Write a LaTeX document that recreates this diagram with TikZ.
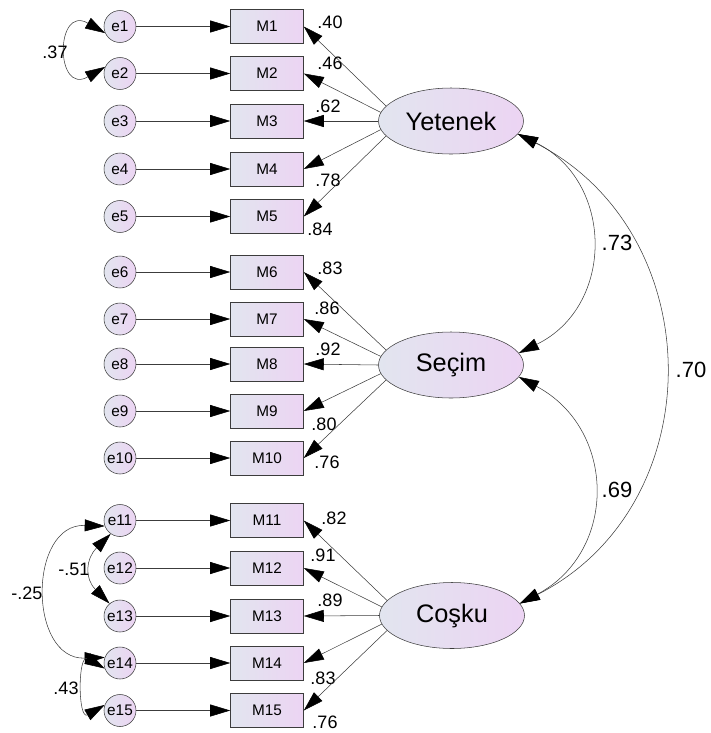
\documentclass[tikz,border=0pt]{standalone}
\usepackage{fontspec}
\setmainfont{Liberation Sans}
\usetikzlibrary{positioning}
\usetikzlibrary{shapes.geometric, arrows.meta}

\definecolor{fillL}{RGB}{226,229,239}
\definecolor{fillR}{RGB}{236,212,243}
\definecolor{edge}{RGB}{60,60,60}

\begin{document}
\begin{tikzpicture}[x=0.75pt, y=0.75pt,
  lat/.style={ellipse, draw=edge, left color=fillL, right color=fillR, minimum width=108.75pt, minimum height=49.5pt, inner sep=0pt, font=\fontsize{19}{19}\selectfont},
  obs/.style={rectangle, draw=edge, left color=fillL, right color=fillR, minimum width=54.75pt, minimum height=25.5pt, inner sep=0pt, font=\fontsize{11.5}{12}\selectfont},
  err/.style={circle, draw=edge, left color=fillL, right color=fillR, minimum size=24pt, inner sep=0pt, font=\fontsize{11.5}{12}\selectfont},
  reg/.style={draw=edge, -{Triangle[length=15pt, width=9pt, color=black]}},
  cov/.style={draw=edge, {Triangle[length=15pt, width=9pt, color=black]}-{Triangle[length=15pt, width=9pt, color=black]}},
  lbl/.style={inner sep=0pt, font=\fontsize{13.5}{14}\selectfont},
  big/.style={inner sep=0pt, font=\fontsize{16.5}{17}\selectfont}]

\useasboundingbox (0,0) rectangle (711,-733);

% error terms and items
\foreach \i/\y in {1/26.5, 2/73.5, 3/121, 4/169, 5/216.5, 6/272, 7/319, 8/364, 9/411, 10/458, 11/520.5, 12/568, 13/616, 14/663, 15/710.5}{
  \node[err] (e\i) at (120,-\y) {e\i};
  \node[obs] (M\i) at (267,-\y) {M\i};
  \draw[reg] (e\i) -- (M\i);
}

% factors
\node[lat] (yetenek) at (451,-121) {Yetenek};
\node[lat] (secim) at (451,-365) {Seçim};
\node[lat] (cosku) at (452,-615.5) {Coşku};

% loadings
\foreach \f/\i/\a/\v/\lx/\ly in {yetenek/1/167/.40/330/22, yetenek/2/173/.46/330/63, yetenek/3/180/.62/328/106, yetenek/4/187/.78/328/180, yetenek/5/193/.84/320/229,
  secim/6/167/.83/330/268, secim/7/173/.86/327/308, secim/8/180/.92/328/349, secim/9/187/.80/324/424, secim/10/193/.76/327/462,
  cosku/11/167/.82/334/518, cosku/12/173/.91/323/555, cosku/13/180/.89/330/600, cosku/14/187/.83/323/678, cosku/15/193/.76/325/722}{
  \draw[reg] (\f.\a) -- (M\i.east);
  \node[lbl] (l\i) at (\lx,-\ly) {\v};
}

% factor correlations
\draw[cov] (yetenek.-11) to[out=-26, in=26, looseness=1.25] (secim.10);
\draw[cov] (secim.-10) to[out=-28, in=28, looseness=1.25] (cosku.10);
\draw[cov] (yetenek.-11) to[out=-27, in=27, looseness=1.18] (cosku.10);
\node[big] (r1) at (617,-243) {.73};
\node[big] (r2) at (691,-370) {.70};
\node[big] (r3) at (617,-490) {.69};

% error covariances
\draw[cov] (e1.204) to[out=150, in=210, looseness=4.4] (e2.156);
\node[lbl] (c1) at (55,-52) {.37};
\draw[cov] (e11.235) to[out=225, in=135, looseness=1.3] (e13.130);
\node[lbl] (c2) at (74,-569) {-.51};
\draw[cov] (e11.200) to[out=178, in=182, looseness=1.5] (e14.160);
\node[lbl] (c3) at (27,-593) {-.25};
\draw[cov] (e14.200) to[out=150, in=210, looseness=2.2] (e15.160);
\node[lbl] (c4) at (66,-688) {.43};

\end{tikzpicture}
\end{document}
